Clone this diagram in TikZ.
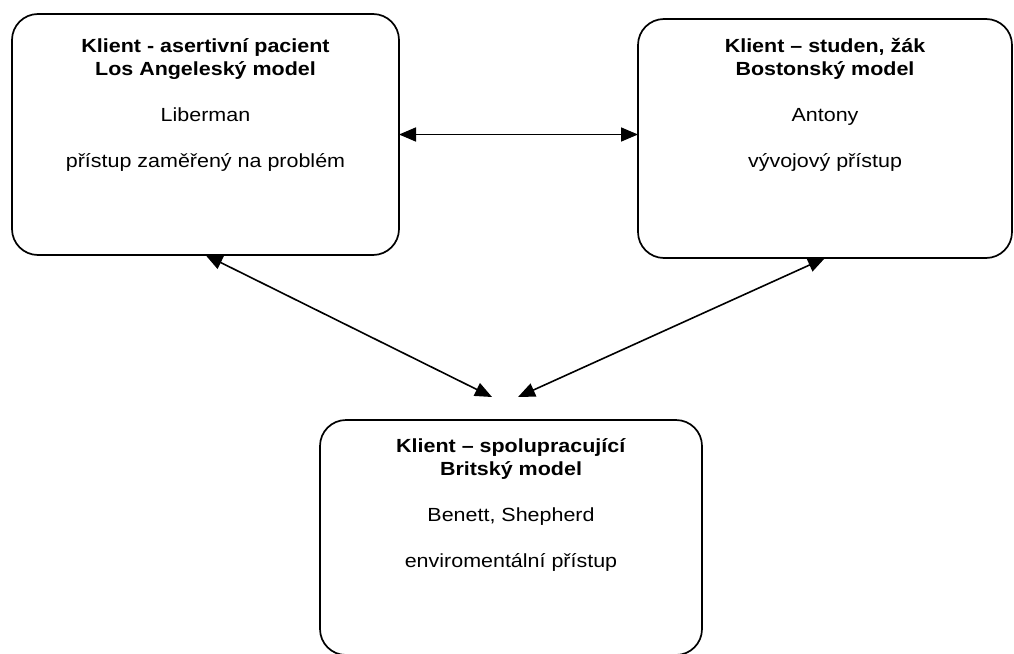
\documentclass[tikz,border=0pt]{standalone}
\usepackage{fontspec}
\setmainfont{Liberation Sans}[FakeStretch=1.13]
\usetikzlibrary{arrows.meta,calc}
\begin{document}
\begin{tikzpicture}[x=1pt,y=-1pt,
  box/.style={draw, line width=1.7pt, rounded corners=26pt, inner sep=0pt, outer sep=0pt},
  txt/.style={anchor=north, align=center, inner sep=0pt, font=\fontsize{19}{23}\selectfont},
  arr/.style={{Triangle[length=17pt,width=14pt]}-{Triangle[length=17pt,width=14pt]}, line width=1.6pt}]
\useasboundingbox (0,0) rectangle (1014,653);
\node[box, minimum width=387pt, minimum height=241pt] (b1) at (205.5,134.5) {};
\node[box, minimum width=374pt, minimum height=239pt] (b2) at (825,138.5) {};
\node[box, minimum width=382pt, minimum height=235pt] (b3) at (511,537.5) {};
\node[txt] (t1) at ($(b1.north)+(0,24)$) {\textbf{Klient - asertivní pacient}\\\textbf{Los Angeleský model}\\[23pt]Liberman\\[23pt]přístup zaměřený na problém};
\node[txt] (t2) at ($(b2.north)+(0,19)$) {\textbf{Klient – studen, žák}\\\textbf{Bostonský model}\\[23pt]Antony\\[23pt]vývojový přístup};
\node[txt] (t3) at ($(b3.north)+(0,18)$) {\textbf{Klient – spolupracující}\\\textbf{Britský model}\\[23pt]Benett, Shepherd\\[23pt]enviromentální přístup};
\coordinate (e1) at (492,397);
\coordinate (e2) at (518,397);
\draw[arr] (b1.east) -- (b1.east -| b2.west);
\draw[arr] (b1.south) -- (e1);
\draw[arr] (b2.south) -- (e2);
\end{tikzpicture}
\end{document}
